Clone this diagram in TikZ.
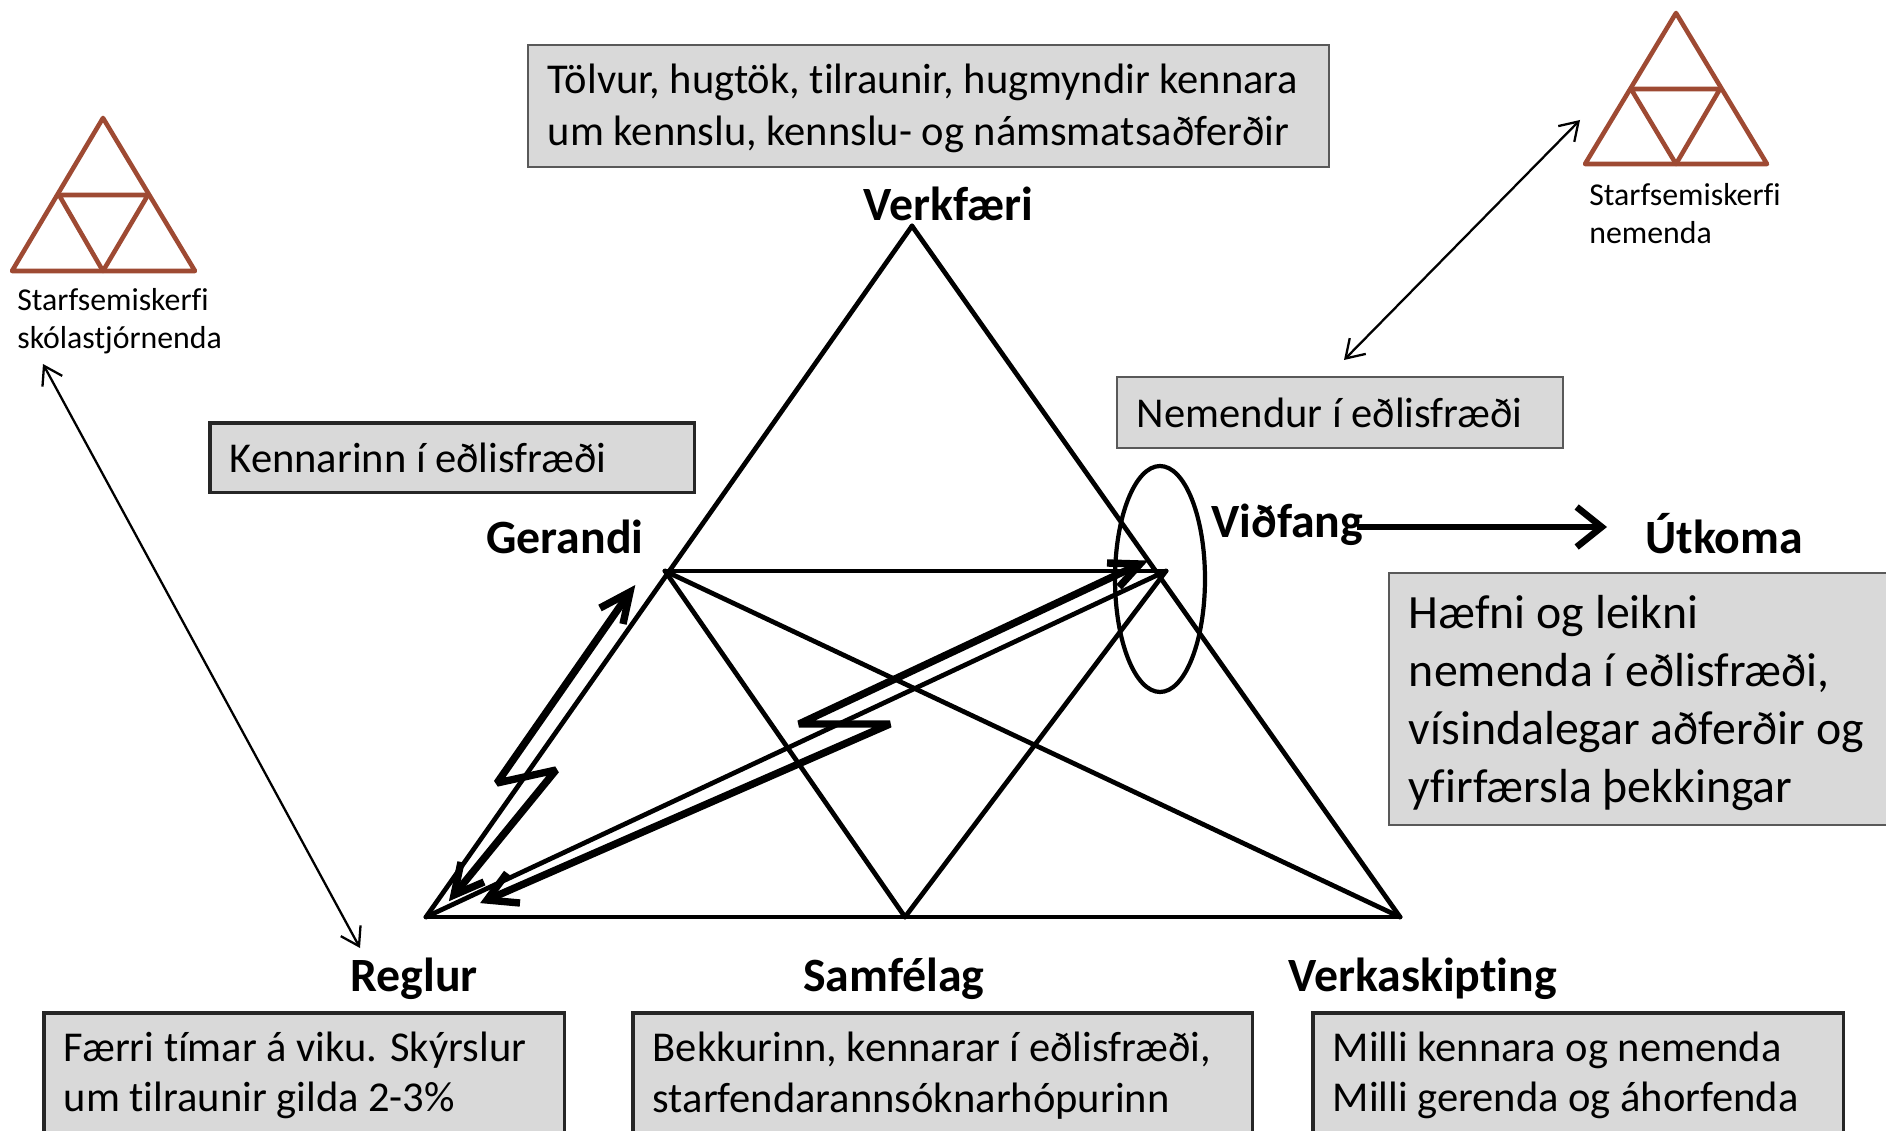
\documentclass[tikz,border=0pt]{standalone}
\usepackage{fontspec}
\setmainfont[Ligatures=NoCommon]{Carlito}
\usetikzlibrary{shapes,arrows,arrows.meta,positioning}
\definecolor{boxgray}{HTML}{D9D9D9}
\definecolor{smallbrown}{HTML}{9E4A33}

\begin{document}
\begin{tikzpicture}[x=0.02cm, y=-0.02cm]
			\tikzstyle{Corner}	= [coordinate]
			\tikzstyle{Edge}	= [line width=2.7pt, black, line join=round, line cap=round]
			\tikzstyle{Bolt}	= [line width=4.2pt, black, line join=bevel]
			\tikzstyle{BoltHead}	= [line width=4.2pt, black, line join=miter]
			\tikzstyle{Link}	= [line width=1.3pt, black, {Straight Barb[length=3.5mm,width=4.5mm]}-{Straight Barb[length=3.5mm,width=4.5mm]}]
			\tikzstyle{Result}	= [line width=3.8pt, black, -{Straight Barb[length=5mm,width=8mm]}]
			\tikzstyle{Small}	= [line width=2.6pt, smallbrown, line join=round, line cap=round]
			\tikzstyle{Title}	= [anchor=base west, inner sep=0pt, font=\fontsize{27.2}{32}\selectfont\bfseries]
			\tikzstyle{Caption}	= [anchor=north west, inner sep=0pt, align=flush left, font=\fontsize{18.1}{21.8}\selectfont]
			\tikzstyle{Box}		= [anchor=north west, draw=black!65, line width=1.1pt, fill=boxgray, inner xsep=0.4cm, inner ysep=0pt, align=flush left, font=\fontsize{24.2}{29.8}\selectfont]
			\tikzstyle{DarkBox}	= [Box, draw=black!85, line width=2pt]

			\useasboundingbox (0,0) rectangle (1886,1131);
			\clip (0,0) rectangle (1886,1131);

			\node (v0) at (912,226) [Corner] {};
			\node (v1) at (665,571) [Corner] {};
			\node (v2) at (1166,571) [Corner] {};
			\node (v3) at (426,917) [Corner] {};
			\node (v4) at (905,917) [Corner] {};
			\node (v5) at (1400,917) [Corner] {};

			\draw [-] (v0) to (v3) [Edge];
			\draw [-] (v0) to (v5) [Edge];
			\draw [-] (v3) to (v5) [Edge];
			\draw [-] (v1) to (v2) [Edge];
			\draw [-] (v1) to (v4) [Edge];
			\draw [-] (v1) to (v5) [Edge];
			\draw [-] (v2) to (v3) [Edge];
			\draw [-] (v2) to (v4) [Edge];

			\node (objectRing) at (1160,579) [ellipse, draw, line width=2.4pt, minimum width=1.8cm, minimum height=4.52cm, inner sep=0pt] {};

			\node (a0) at (630,592) [Corner] {};
			\node (a1) at (600,608) [Corner] {};
			\node (a2) at (623,624) [Corner] {};
			\node (a3) at (497,783) [Corner] {};
			\node (a4) at (556,770) [Corner] {};
			\node (a5) at (454,895) [Corner] {};
			\node (a6) at (461,862) [Corner] {};
			\node (a7) at (484,882) [Corner] {};
			\draw (a0) -- (a3) -- (a4) -- (a5) [Bolt];
			\draw (a6) -- (a5) -- (a7) [BoltHead];
			\draw (a1) -- (a0) -- (a2) [BoltHead];

			\node (b0) at (1140,564) [Corner] {};
			\node (b1) at (1107,563) [Corner] {};
			\node (b2) at (1119,587) [Corner] {};
			\node (b3) at (799,724) [Corner] {};
			\node (b4) at (890,724) [Corner] {};
			\node (b5) at (487,900) [Corner] {};
			\node (b6) at (507,873) [Corner] {};
			\node (b7) at (520,903) [Corner] {};
			\draw (b0) -- (b3) -- (b4) -- (b5) [Bolt];
			\draw (b1) -- (b0) -- (b2) [BoltHead];
			\draw (b6) -- (b5) -- (b7) [BoltHead];

			\node (s0) at (103,118) [Corner] {};
			\node (s1) at (12,271) [Corner] {};
			\node (s2) at (195,271) [Corner] {};
			\node (s3) at (59,195) [Corner] {};
			\node (s4) at (148,195) [Corner] {};
			\node (s5) at (103,271) [Corner] {};
			\draw (s0) -- (s1) -- (s2) -- cycle [Small];
			\draw (s3) -- (s4) -- (s5) -- cycle [Small];

			\node (n0) at (1676,13) [Corner] {};
			\node (n1) at (1585,164) [Corner] {};
			\node (n2) at (1767,164) [Corner] {};
			\node (n3) at (1631,89) [Corner] {};
			\node (n4) at (1720,89) [Corner] {};
			\node (n5) at (1676,164) [Corner] {};
			\draw (n0) -- (n1) -- (n2) -- cycle [Small];
			\draw (n3) -- (n4) -- (n5) -- cycle [Small];

			\node (adminText) at (17,288) [Caption] {Starfsemiskerfi\\skólastjórnenda};
			\node (learnText) at (1589,183) [Caption] {Starfsemiskerfi\\nemenda};

			\node (toolTitle) at (863,221) [Title] {Verkfæri};
			\node (subjectTitle) at (486,553) [Title] {Gerandi};
			\node (objectTitle) at (1211,538) [Title] {Viðfang};
			\node (outcomeTitle) at (1645,553) [Title] {Útkoma};
			\node (rulesTitle) at (350,991) [Title] {Reglur};
			\node (communityTitle) at (803,991) [Title] {Samfélag};
			\node (labourTitle) at (1288,991) [Title] {Verkaskipting};

			\node (toolBox) at (527,44) [Box, text width=15.22cm, minimum height=2.44cm] {\rule{0pt}{19.5pt}Tölvur, hugtök, tilraunir, hugmyndir kennara\\um kennslu, kennslu- og námsmatsaðferðir};
			\node (objectBox) at (1116,376) [Box, text width=8.12cm, minimum height=1.42cm] {Nemendur í eðlisfræði};
			\node (subjectBox) at (208,421) [DarkBox, text width=8.9cm, minimum height=1.4cm] {Kennarinn í eðlisfræði};
			\node (outcomeBox) at (1388,572) [Box, text width=9.22cm, minimum height=5.05cm, font=\fontsize{27.2}{33}\selectfont] {\rule{0pt}{23.3pt}Hæfni og leikni\\nemenda í eðlisfræði,\\vísindalegar aðferðir og\\yfirfærsla þekkingar};
			\node (rulesBox) at (42,1011) [DarkBox, text width=9.62cm, minimum height=2.52cm, font=\fontsize{24.2}{28.6}\selectfont] {Færri tímar á viku. Skýrslur\\um tilraunir gilda 2-3\%};
			\node (communityBox) at (631,1011) [DarkBox, text width=11.6cm, minimum height=2.52cm, font=\fontsize{24.2}{28.6}\selectfont] {Bekkurinn, kennarar í eðlisfræði,\\starfendarannsóknarhópurinn};
			\node (labourBox) at (1311,1011) [DarkBox, text width=9.82cm, minimum height=2.52cm, font=\fontsize{24.2}{28.6}\selectfont] {Milli kennara og nemenda\\Milli gerenda og áhorfenda};

			\node (c0) at (43,364) [Corner] {};
			\node (c1) at (360,948) [Corner] {};
			\node (c2) at (1580,120) [Corner] {};
			\node (c3) at (1344,360) [Corner] {};
			\node (c4) at (1357,527) [Corner] {};
			\node (c5) at (1607,527) [Corner] {};
			\draw (c0) to (c1) [Link];
			\draw (c2) to (c3) [Link];
			\draw (c4) to (c5) [Result];
\end{tikzpicture}
\end{document}
